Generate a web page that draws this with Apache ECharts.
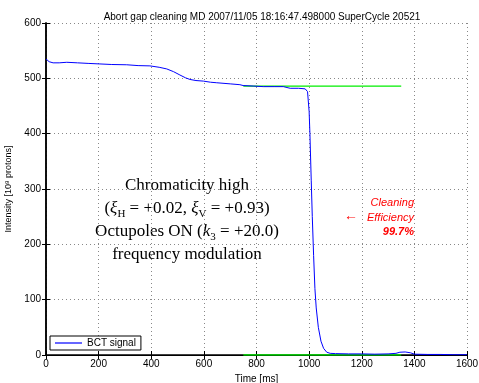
<!DOCTYPE html>
<html>
<head>
<meta charset="utf-8">
<script src="https://cdn.jsdelivr.net/npm/echarts@6/dist/echarts.min.js"></script>
<style>
  html, body { margin: 0; padding: 0; background: #fff; }
  #chart { width: 479px; height: 383px; }
</style>
</head>
<body>
<div id="chart"></div>
<script>
// BCT signal [ms, 1e9 protons]
const bctTime = [0, 5, 12, 27, 50, 79, 120, 160, 205, 250, 307, 350, 395, 430, 459, 485, 509, 530, 547, 570, 598, 625, 649, 700, 737, 749, 790, 826, 870, 902, 928, 960, 985, 994, 1000, 1003, 1008, 1012, 1017, 1022, 1027, 1035, 1045, 1055, 1067, 1080, 1100, 1150, 1200, 1250, 1300, 1330, 1345, 1365, 1385, 1400, 1450, 1500, 1550, 1600];
const bctValue = [535, 534, 530, 528, 528, 529, 528, 527, 526, 525, 524.5, 523, 522.5, 520, 517, 512, 506, 501, 498, 496, 495, 493, 492, 490, 488.5, 487, 486, 485, 485, 485, 482, 482, 481, 476, 440, 400, 316, 250, 180, 120, 85, 50, 25, 12, 5, 3, 2.5, 2, 2, 1.5, 2, 3, 5, 5.5, 4, 1.5, 1, 1, 0.5, 0.5];
// green reference lines
const refTime = [750, 1350];
const refHigh = [486, 486];
const refLow = [0, 0];

const chart = echarts.init(document.getElementById('chart'));
const font = 'Liberation Sans, Arial, sans-serif';
const serif = 'Liberation Serif, Times New Roman, serif';
const gridLine = { show: true, lineStyle: { color: '#888', type: [1, 3], width: 1 } };

chart.setOption({
  animation: false,
  title: {
    text: 'Abort gap cleaning MD 2007/11/05 18:16:47.498000 SuperCycle 20521',
    left: 257, top: 7, textAlign: 'center',
    textStyle: { fontFamily: font, fontSize: 10, fontWeight: 'normal', color: '#000' }
  },
  legend: {
    data: ['BCT signal'],
    left: 50, top: 336,
    padding: [2, 5, 2, 5],
    borderColor: '#000', borderWidth: 1, borderRadius: 0,
    backgroundColor: '#fff',
    icon: 'rect',
    itemWidth: 27, itemHeight: 1.5, itemGap: 4,
    textStyle: { fontFamily: font, fontSize: 10, color: '#000' }
  },
  grid: { left: 46, right: 12, top: 23, bottom: 28, outerBoundsMode: 'none', containLabel: false },
  xAxis: [{
    type: 'value', min: 0, max: 1600, interval: 200,
    name: 'Time [ms]', nameLocation: 'middle', nameGap: 15,
    nameTextStyle: { fontFamily: font, fontSize: 10, color: '#000' },
    axisLine: { lineStyle: { color: '#000', width: 1.5 } },
    axisTick: { inside: true, length: 4, lineStyle: { color: '#000' } },
    axisLabel: { fontFamily: font, fontSize: 10, color: '#000', margin: 4, formatter: v => String(v) },
    splitLine: gridLine
  }, {
    type: 'value', min: 0, max: 1600, interval: 200, position: 'top',
    axisLine: { lineStyle: { color: '#000', width: 1 } },
    axisTick: { inside: true, length: 4, lineStyle: { color: '#000' } },
    axisLabel: { show: false }, splitLine: { show: false }
  }],
  yAxis: [{
    type: 'value', min: 0, max: 600, interval: 100,
    name: '{t|Intensity [10}{s|9}{t| protons]}', nameLocation: 'middle', nameGap: 30,
    nameTextStyle: {
      rich: {
        t: { fontFamily: font, fontSize: 9, color: '#000' },
        s: { fontFamily: font, fontSize: 6, color: '#000', verticalAlign: 'top' }
      }
    },
    axisLine: { lineStyle: { color: '#000', width: 1.5 } },
    axisTick: { inside: true, length: 4, lineStyle: { color: '#000' } },
    axisLabel: { fontFamily: font, fontSize: 10, color: '#000', margin: 5 },
    splitLine: gridLine
  }, {
    type: 'value', min: 0, max: 600, interval: 100, position: 'right',
    axisLine: { lineStyle: { color: '#000', width: 1.5 } },
    axisTick: { inside: true, length: 4, lineStyle: { color: '#000' } },
    axisLabel: { show: false }, splitLine: { show: false }
  }],
  series: [
    {
      name: 'ref high', type: 'line', symbol: 'none',
      data: refTime.map((t, i) => [t, refHigh[i]]),
      lineStyle: { color: '#00ee00', width: 1.2 }, z: 2
    },
    {
      name: 'ref low', type: 'line', symbol: 'none',
      data: refTime.map((t, i) => [t, refLow[i]]),
      lineStyle: { color: '#00ee00', width: 1.5 }, z: 2
    },
    {
      name: 'BCT signal', type: 'line', symbol: 'none',
      data: bctTime.map((t, i) => [t, bctValue[i]]),
      itemStyle: { color: '#3333ff' },
      lineStyle: { color: '#0000ff', width: 1 }, z: 3
    }
  ],
  graphic: [
    {
      type: 'text', x: 187, y: 174,
      style: {
        text: '{r|Chromaticity high}\n{r|(}{i|ξ}{s|H}{r| = +0.02, }{i|ξ}{s|V}{r| = +0.93)}\n{r|Octupoles ON (}{i|k}{s|3}{r| = +20.0)}\n{r|frequency modulation}',
        align: 'center', verticalAlign: 'top',
        rich: {
          r: { fontFamily: serif, fontSize: 17, color: '#000', lineHeight: 23 },
          i: { fontFamily: serif, fontSize: 17, fontStyle: 'italic', color: '#000', lineHeight: 23 },
          s: { fontFamily: serif, fontSize: 11, color: '#000', lineHeight: 13, verticalAlign: 'bottom' }
        }
      }
    },
    {
      type: 'text', x: 414, y: 196,
      style: {
        text: 'Cleaning\nEfficiency\n{b|99.7%}',
        align: 'right', verticalAlign: 'top',
        fontFamily: font, fontSize: 11, fontStyle: 'italic', fill: '#ff0000', lineHeight: 14.5,
        rich: { b: { fontFamily: font, fontSize: 11, fontStyle: 'italic', fontWeight: 'bold', color: '#ff0000', lineHeight: 14.5 } }
      }
    },
    {
      type: 'text', x: 344, y: 209,
      style: { text: '←', fontFamily: serif, fontSize: 14, fill: '#ff0000' }
    }
  ]
});
</script>
</body>
</html>
